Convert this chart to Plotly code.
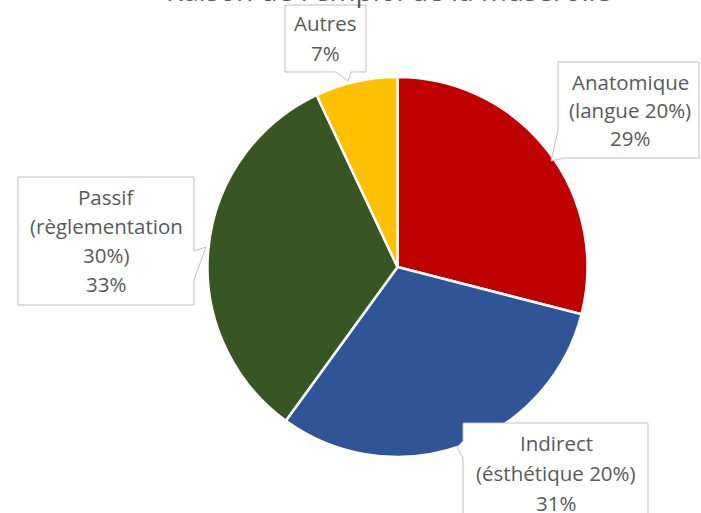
import plotly.graph_objects as go

# ---- data ----
categories = ["Anatomique (langue 20%)", "Indirect (ésthétique 20%)",
              "Passif (règlementation 30%)", "Autres"]
values = [29, 31, 33, 7]
label_lines = [["Anatomique", "(langue 20%)"],
               ["Indirect", "(ésthétique 20%)"],
               ["Passif", "(règlementation", "30%)"],
               ["Autres"]]
colors = ["#C00000", "#2F5597", "#375623", "#FFC000"]
title_text = "Raison de l'emploi de la muserolle"

W, H = 701, 513
def px(x): return x / W
def py(y): return 1 - y / H

fig = go.Figure(go.Pie(
    labels=categories, values=values, sort=False, direction="clockwise",
    rotation=0, textinfo="none", hoverinfo="label+percent",
    marker=dict(colors=colors, line=dict(color="white", width=2.5)),
    domain=dict(x=[px(397.5 - 190), px(397.5 + 190)],
                y=[py(267 + 190), py(267 - 190)]),
    showlegend=False,
))

# callout boxes (pixel outlines -> paper coords)
boxes = [
    [(558, 62), (699, 62), (699, 158), (564, 158), (551, 161), (558, 130)],
    [(463, 423), (648, 423), (648, 520), (463, 520), (463, 458), (457, 447), (463, 441)],
    [(18, 177), (194, 177), (194, 251), (206, 247), (194, 280), (194, 305), (18, 305)],
    [(285, 5), (366, 5), (366, 72), (351, 72), (348, 81), (336, 72), (285, 72)],
]
for pts in boxes:
    path = "M " + " L ".join(f"{px(x):.5f},{py(y):.5f}" for x, y in pts) + " Z"
    fig.add_shape(type="path", path=path, xref="paper", yref="paper",
                  fillcolor="white", line=dict(color="#BFBFBF", width=1))

# label text positions
centers_x = [630, 556, 106, 325]
first_y = [82, 443, 197, 23]
spacing = [28, 30, 29, 30]
total = sum(values)
font = dict(family="Open Sans", size=20.5, color="#595959")
for i, lines in enumerate(label_lines):
    pct = f"{round(values[i] / total * 100)}%"
    for j, t in enumerate(lines + [pct]):
        fig.add_annotation(x=px(centers_x[i]), y=py(first_y[i] + j * spacing[i]),
                           xref="paper", yref="paper", text=t, showarrow=False,
                           xanchor="center", yanchor="middle", font=font)

fig.add_annotation(x=px(388), y=py(-10), xref="paper", yref="paper",
                   text=title_text, showarrow=False, xanchor="center",
                   yanchor="middle",
                   font=dict(family="Open Sans", size=28, color="#595959"))

fig.update_layout(width=W, height=H, margin=dict(l=0, r=0, t=0, b=0),
                  paper_bgcolor="white", plot_bgcolor="white")
fig.write_html("out.html")
